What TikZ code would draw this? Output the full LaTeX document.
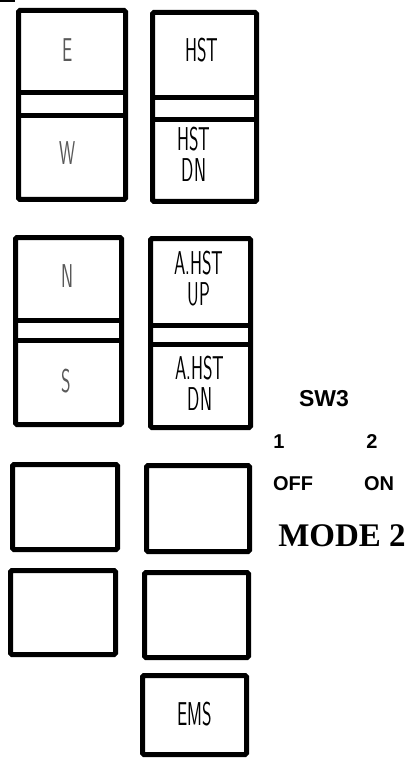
\documentclass[tikz,border=0pt]{standalone}
\usepackage{fontspec}
\setmainfont{Liberation Serif}
\newfontfamily\arialfont{Liberation Sans}
\newcommand\condtxt[1]{\scalebox{0.55}[1]{\fontsize{33}{26}\selectfont\begin{tabular}{@{}c@{}}#1\end{tabular}}}
\tikzset{
  x=1pt,y=-1pt,
  panel/.style={line width=5pt, rounded corners=1.5pt},
  bar/.style={line width=5pt},
  plbl/.style={inner sep=0pt, font=\sffamily},
  faint/.style={plbl, text=black!65},
  swtxt/.style={inner sep=0pt, font=\arialfont\bfseries\fontsize{20}{20}\selectfont},
  modetxt/.style={inner sep=0pt, font=\bfseries\fontsize{33}{33}\selectfont}
}
\begin{document}
\begin{tikzpicture}
\useasboundingbox (0,0) rectangle (418,759);
% scan mark at top left
\draw[line width=1.5pt] (0,1) -- (15,1);

% group 1, left column
\draw[panel] (18.5,10.5) rectangle (125.5,199.5);
\draw[bar] (18.5,93) -- (125.5,93);
\draw[bar] (18.5,115.5) -- (125.5,115.5);
% group 1, right column
\draw[panel] (152.5,12.5) rectangle (256.5,201.5);
\draw[bar] (152.5,97.5) -- (256.5,97.5);
\draw[bar] (152.5,119.5) -- (256.5,119.5);

% group 2, left column
\draw[panel] (15.5,237.5) rectangle (121.5,424.5);
\draw[bar] (15.5,320.5) -- (121.5,320.5);
\draw[bar] (15.5,340.5) -- (121.5,340.5);
% group 2, right column
\draw[panel] (150.5,238.5) rectangle (250.5,427.5);
\draw[bar] (150.5,325.5) -- (250.5,325.5);
\draw[bar] (150.5,344.5) -- (250.5,344.5);

% blank keys
\draw[panel] (12.5,464.5) rectangle (117.5,549.5);
\draw[panel] (146.5,465.5) rectangle (249.5,551.5);
\draw[panel] (10.5,570.5) rectangle (115.5,654.5);
\draw[panel] (144.5,572.5) rectangle (248.5,657.5);
\draw[panel] (142.5,675.5) rectangle (246.5,754.5);

% key labels
\node[faint] (e) at (68,54) {\condtxt{E}};
\node[faint] (w) at (68,157) {\condtxt{W}};
\node[faint] (n) at (68,280) {\condtxt{N}};
\node[faint] (s) at (66,385) {\condtxt{S}};
\node[plbl] (hst) at (202,54) {\condtxt{HST}};
\node[plbl] (hstdn) at (194,158) {\condtxt{HST\\DN}};
\node[plbl] (ahstup) at (199,282) {\condtxt{A.HST\\UP}};
\node[plbl] (ahstdn) at (200,387) {\condtxt{A.HST\\DN}};
\node[plbl] (ems) at (195,718) {\condtxt{EMS}};

% switch legend
\node[swtxt, anchor=base, font=\arialfont\bfseries\fontsize{23}{23}\selectfont] (sw3) at (324,406) {SW3};
\node[swtxt, anchor=base] (one) at (279,448) {1};
\node[swtxt, anchor=base] (two) at (372,448) {2};
\node[swtxt, anchor=base] (off) at (293,490) {OFF};
\node[swtxt, anchor=base] (on) at (379,490) {ON};
\node[modetxt, anchor=base] (mode) at (342,546) {MODE 2};
\end{tikzpicture}
\end{document}
